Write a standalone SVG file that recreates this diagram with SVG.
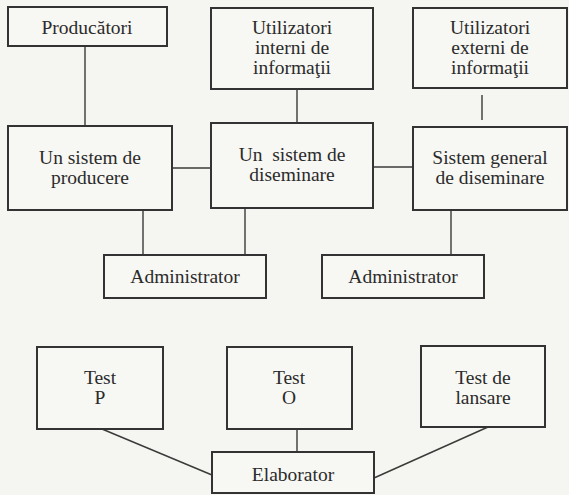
<svg xmlns="http://www.w3.org/2000/svg" width="569" height="495" viewBox="0 0 569 495">
<style>
.bg{fill:#f5f5f1}
.box{fill:#f7f7f3;stroke:#333;stroke-width:2}
.ln{stroke:#3a3a3a;stroke-width:1.4;fill:none}
.t{font-size:19.5px;fill:#2b2b2b;text-anchor:middle}
</style>
<rect class="bg" x="0" y="0" width="569" height="495"/>
<g id="connectors">
<line class="ln" x1="85" y1="46" x2="85" y2="126"/>
<line class="ln" x1="297" y1="89" x2="297" y2="123"/>
<line class="ln" x1="482" y1="95" x2="482" y2="120"/>
<line class="ln" x1="172" y1="168" x2="211" y2="168"/>
<line class="ln" x1="373" y1="167" x2="413" y2="167"/>
<line class="ln" x1="143" y1="210" x2="143" y2="255"/>
<line class="ln" x1="245" y1="208" x2="245" y2="255"/>
<line class="ln" x1="451" y1="210" x2="451" y2="255"/>
<line class="ln" x1="297" y1="429" x2="297" y2="452"/>
<line class="ln" x1="102" y1="429" x2="212" y2="475"/>
<line class="ln" x1="488" y1="427" x2="374" y2="478"/>
</g>
<g class="t" font-family="'Liberation Serif', Tinos, 'Times New Roman', 'DejaVu Serif', serif">
<g id="producatori"><rect class="box" x="8" y="7" width="159" height="39"/><text x="87" y="34">Producători</text></g>
<g id="utilizatori-interni"><rect class="box" x="211" y="8" width="162" height="81"/><text x="292" y="34">Utilizatori</text><text x="292" y="54">interni de</text><text x="292" y="74">informaţii</text></g>
<g id="utilizatori-externi"><rect class="box" x="413" y="8" width="154" height="80"/><text x="490" y="34">Utilizatori</text><text x="490" y="54">externi de</text><text x="490" y="74">informaţii</text></g>
<g id="sistem-producere"><rect class="box" x="8" y="126" width="164" height="84"/><text x="90" y="164">Un sistem de</text><text x="90" y="184">producere</text></g>
<g id="sistem-diseminare"><rect class="box" x="211" y="123" width="162" height="85"/><text x="292" y="161" xml:space="preserve">Un  sistem de</text><text x="292" y="181">diseminare</text></g>
<g id="sistem-general"><rect class="box" x="413" y="127" width="154" height="83"/><text x="490" y="164">Sistem general</text><text x="490" y="184">de diseminare</text></g>
<g id="administrator-1"><rect class="box" x="104" y="255" width="162" height="43"/><text x="185" y="283">Administrator</text></g>
<g id="administrator-2"><rect class="box" x="322" y="255" width="162" height="43"/><text x="403" y="283">Administrator</text></g>
<g id="test-p"><rect class="box" x="37" y="347" width="126" height="82"/><text x="100" y="384">Test</text><text x="100" y="404">P</text></g>
<g id="test-o"><rect class="box" x="227" y="347" width="125" height="82"/><text x="289" y="384">Test</text><text x="289" y="404">O</text></g>
<g id="test-lansare"><rect class="box" x="421" y="346" width="124" height="81"/><text x="483" y="384">Test de</text><text x="483" y="404">lansare</text></g>
<g id="elaborator"><rect class="box" x="212" y="452" width="162" height="41"/><text x="293" y="481">Elaborator</text></g>
</g>
</svg>
